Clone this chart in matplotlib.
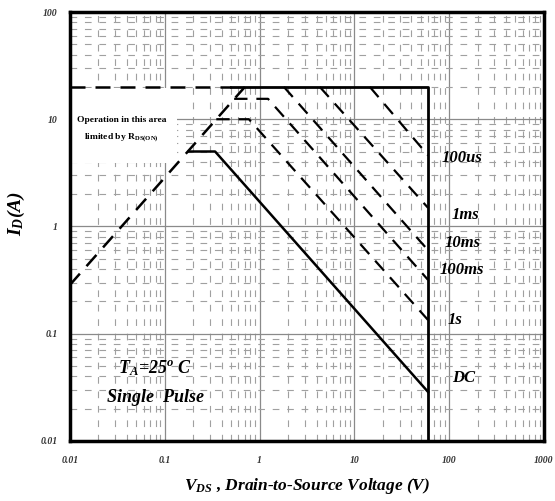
import matplotlib
matplotlib.use("Agg")
import matplotlib.pyplot as plt
from matplotlib.ticker import LogLocator, FixedLocator, NullFormatter

plt.rcParams["mathtext.fontset"] = "custom"
plt.rcParams["mathtext.rm"] = "Liberation Serif:bold:italic"
plt.rcParams["mathtext.it"] = "Liberation Serif:bold:italic"
plt.rcParams["mathtext.bf"] = "Liberation Serif:bold:italic"

# ---- data ----
x_ticks = [0.01, 0.1, 1, 10, 100, 1000]
x_tick_labels = ["0.01", "0.1", "1", "10", "100", "1000"]
y_ticks = [0.01, 0.1, 1, 10, 100]
y_tick_labels = ["0.01", "0.1", "1", "10", "100"]

rds_v = [0.01, 0.70]          # R_DS(on) limit line (dashed)
rds_i = [0.285, 20.0]
top_dash_v = [0.01, 0.50]     # current limit (dashed part)
top_dash_i = [20.0, 20.0]
box_v = [0.50, 60.0, 60.0]    # current limit + breakdown voltage limit
box_i = [20.0, 20.0, 0.01]
dc_v = [0.18, 0.34, 60.0]
dc_i = [5.0, 5.0, 0.0286]
pulse_names = ["100us", "1ms", "10ms", "100ms", "1s"]
pulse_v = [[14.6, 60.0], [4.33, 60.0], [1.81, 60.0], [0.54, 1.23, 60.0], [0.35, 0.773, 60.0]]
pulse_i = [[20.0, 4.6], [20.0, 1.49], [20.0, 0.60], [15.5, 15.5, 0.317], [10.0, 10.0, 0.134]]
label_names = ["100us", "1ms", "10ms", "100ms", "1s", "DC"]
label_pos = [(0.785, 0.660), (0.806, 0.527), (0.791, 0.462), (0.781, 0.399), (0.797, 0.282), (0.806, 0.147)]

serif = ["Liberation Serif", "DejaVu Serif"]

fig = plt.figure(figsize=(5.55, 5.01), dpi=100)
ax = fig.add_axes([0.126, 0.120, 0.854, 0.856])
ax.set_xscale("log")
ax.set_yscale("log")
ax.set_xlim(0.01, 1000)
ax.set_ylim(0.01, 100)

# grid
ax.xaxis.set_major_locator(FixedLocator(x_ticks))
ax.yaxis.set_major_locator(FixedLocator(y_ticks))
ax.xaxis.set_minor_locator(LogLocator(base=10, subs=range(2, 10)))
ax.yaxis.set_minor_locator(LogLocator(base=10, subs=range(2, 10)))
ax.xaxis.set_minor_formatter(NullFormatter())
ax.yaxis.set_minor_formatter(NullFormatter())
ax.grid(True, which="major", color="#8a8a8a", linewidth=0.9, linestyle="-")
ax.grid(True, which="minor", color="#a0a0a0", linewidth=0.8, linestyle=(0, (6, 7)))
ax.set_axisbelow(True)

ax.set_xticklabels(x_tick_labels)
ax.set_yticklabels(y_tick_labels)
ax.tick_params(which="both", length=0)
ax.tick_params(axis="x", pad=11)
ax.tick_params(axis="y", pad=9)
for lab in ax.get_xticklabels() + ax.get_yticklabels():
    lab.set_fontfamily(serif)
    lab.set_fontstyle("italic")
    lab.set_fontweight("bold")
    lab.set_fontsize(7)
    lab.set_color("#333333")

for s in ax.spines.values():
    s.set_linewidth(2.5)
    s.set_color("black")

# white area behind annotation
ax.fill_between([0.0101, 0.135], [3.9, 3.9], [19.5, 19.5], color="white", zorder=1.5, linewidth=0)

dash = (0, (6, 4))
ax.plot(rds_v, rds_i, color="black", lw=1.8, linestyle=dash, zorder=3)
ax.plot(top_dash_v, top_dash_i, color="black", lw=1.8, linestyle=dash, zorder=3)
ax.plot(box_v, box_i, color="black", lw=2.0, zorder=3)
ax.plot(dc_v, dc_i, color="black", lw=1.8, zorder=3)
for v, i in zip(pulse_v, pulse_i):
    ax.plot(v, i, color="black", lw=1.6, linestyle=dash, zorder=3)

for name, (px, py) in zip(label_names, label_pos):
    ax.text(px, py, name, transform=ax.transAxes, ha="left", va="center",
            family=serif, style="italic", weight="bold", fontsize=12, zorder=4)

ax.text(0.179, 0.170, r"T$_{A}$=25$^{o}$ C", transform=ax.transAxes, ha="center", va="center",
        family=serif, style="italic", weight="bold", fontsize=13, zorder=4)
ax.text(0.181, 0.100, "Single  Pulse", transform=ax.transAxes, ha="center", va="center",
        family=serif, style="italic", weight="bold", fontsize=13, zorder=4)
ax.text(0.109, 0.749, "Operation in this area", transform=ax.transAxes, ha="center", va="center",
        family=serif, weight="bold", fontsize=6.8, zorder=4)
ax.text(0.109, 0.707, "limited by R$_{\\mathregular{DS(ON)}}$", transform=ax.transAxes, ha="center", va="center",
        family=serif, weight="bold", fontsize=6.8, zorder=4)

ax.set_xlabel(r"V$_{DS}$ , Drain-to-Source Voltage (V)", family=serif, style="italic",
              weight="bold", fontsize=12.5, labelpad=8)
ax.set_ylabel(r"I$_{D}$(A)", family=serif, style="italic", weight="bold", fontsize=14)
ax.yaxis.set_label_coords(-0.09, 0.53)

fig.savefig("out.png", dpi=100)
